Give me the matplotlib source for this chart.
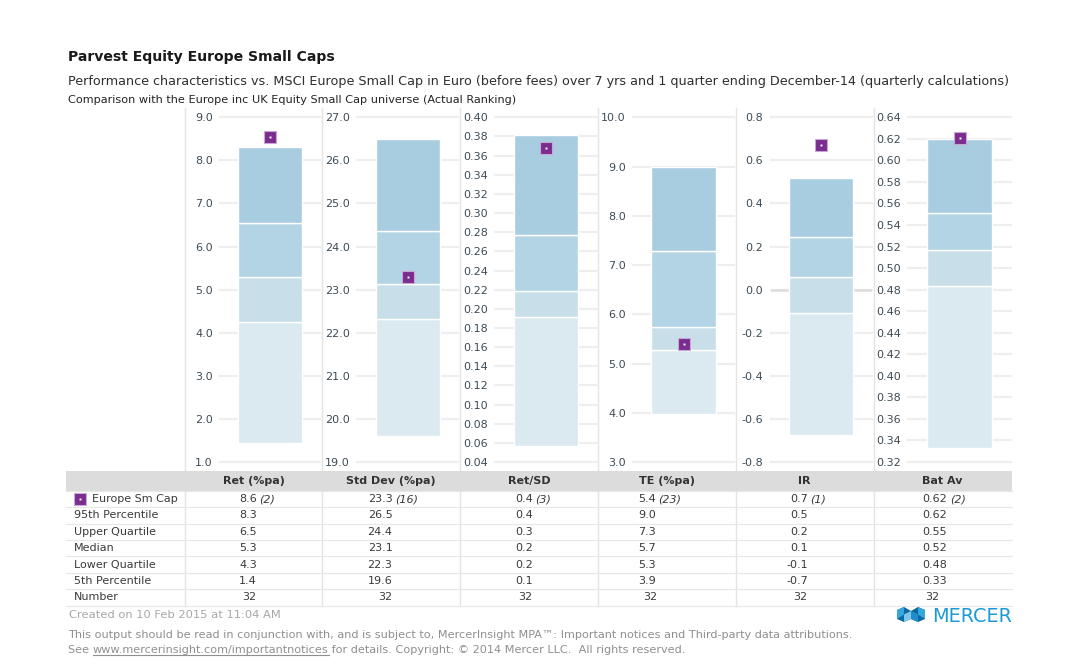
import matplotlib
matplotlib.use("Agg")
import matplotlib.pyplot as plt
from matplotlib.patches import Rectangle, Polygon
from matplotlib.lines import Line2D
import numpy as np

plt.rcParams['font.family'] = ['DejaVu Sans']
plt.rcParams['axes.unicode_minus'] = False

W, H = 1084, 664

# ---------------- data ----------------
metrics = ["Ret (%pa)", "Std Dev (%pa)", "Ret/SD", "TE (%pa)", "IR", "Bat Av"]
p95 = [8.30, 26.49, 0.3815, 8.99, 0.520, 0.620]
uq = [6.54, 24.35, 0.277, 7.29, 0.243, 0.551]
med = [5.30, 23.13, 0.219, 5.75, 0.061, 0.517]
lq = [4.26, 22.33, 0.191, 5.28, -0.109, 0.483]
p5 = [1.44, 19.61, 0.0566, 3.97, -0.675, 0.333]
fund = [8.55, 23.29, 0.368, 5.40, 0.670, 0.6205]

y_min = [1.0, 19.0, 0.04, 3.0, -0.8, 0.32]
y_max = [9.0, 27.0, 0.40, 10.0, 0.8, 0.64]
y_step = [1.0, 1.0, 0.02, 1.0, 0.2, 0.02]
tick_fmt = ["{:.1f}", "{:.1f}", "{:.2f}", "{:.1f}", "{:.1f}", "{:.2f}"]

fund_name = "Europe Sm Cap"
tbl_fund = ["8.6", "23.3", "0.4", "5.4", "0.7", "0.62"]
tbl_rank = ["(2)", "(16)", "(3)", "(23)", "(1)", "(2)"]
row_labels = ["95th Percentile", "Upper Quartile", "Median", "Lower Quartile",
              "5th Percentile", "Number"]
tbl_p95 = ["8.3", "26.5", "0.4", "9.0", "0.5", "0.62"]
tbl_uq = ["6.5", "24.4", "0.3", "7.3", "0.2", "0.55"]
tbl_med = ["5.3", "23.1", "0.2", "5.7", "0.1", "0.52"]
tbl_lq = ["4.3", "22.3", "0.2", "5.3", "-0.1", "0.48"]
tbl_p5 = ["1.4", "19.6", "0.1", "3.9", "-0.7", "0.33"]
tbl_num = ["32", "32", "32", "32", "32", "32"]

# ---------------- style ----------------
seg_colors = ["#dbe9f1", "#c8dfea", "#b3d4e4", "#a8cce0"]
grid_c = "#eeeeee"
sep_c = "#e4e4e4"
tick_c = "#3d4b55"
txt_c = "#3a3a3a"
purple = "#7b2c8f"

seps = [185, 322, 460, 598, 735.5, 873.5, 1012]
y_top, y_bot = 117.3, 462.0

fig = plt.figure(figsize=(W / 100, H / 100), dpi=100)
fig.patch.set_facecolor("white")
renderer = fig.canvas.get_renderer()


def fx(x):
    return x / W


def fy(y):
    return 1 - y / H


def ftext(x, y, s, **kw):
    return fig.text(fx(x), fy(y), s, **kw)


def fit(x, y, s, width, **kw):
    t = ftext(x, y, s, **kw)
    w = t.get_window_extent(renderer).width
    t.set_fontsize(t.get_fontsize() * width / w)
    return t


def fline(xs, ys, **kw):
    fig.add_artist(Line2D([fx(v) for v in xs], [fy(v) for v in ys],
                          transform=fig.transFigure, **kw))


def fmt_tick(f, t):
    if abs(t) < 1e-9:
        t = 0.0
    return f.format(t)


# ---------------- titles ----------------
fit(68, 60.5, "Parvest Equity Europe Small Caps", 268, fontsize=10,
    fontweight="bold", color="#1a1a1a", va="baseline")
fit(68, 85, "Performance characteristics vs. MSCI Europe Small Cap in Euro (before fees) "
    "over 7 yrs and 1 quarter ending December-14 (quarterly calculations)", 942,
    fontsize=9, color="#2e2e2e", va="baseline")
fit(68, 103.3, "Comparison with the Europe inc UK Equity Small Cap universe (Actual Ranking)",
    449, fontsize=7, color="#222222", va="baseline")

# ---------------- separators ----------------
for s in seps[:-1]:
    fline([s, s], [108, 606], color=sep_c, lw=1, zorder=0)

# ---------------- panels ----------------
for i in range(6):
    l = seps[i] + 35
    r = seps[i + 1] - 1.5
    ax = fig.add_axes([fx(l), fy(y_bot), (r - l) / W, (y_bot - y_top) / H])
    ax.patch.set_visible(False)
    ticks = np.round(np.arange(y_min[i], y_max[i] + y_step[i] / 2, y_step[i]), 4)
    ax.set_xlim(0, 1)
    ax.set_ylim(y_min[i], y_max[i])
    ax.set_yticks(ticks)
    ax.set_yticklabels([fmt_tick(tick_fmt[i], t) for t in ticks])
    ax.set_xticks([])
    for sp in ax.spines.values():
        sp.set_visible(False)
    ax.tick_params(axis="y", length=0, pad=5.2, labelsize=8, labelcolor=tick_c)
    for t in ticks:
        ax.axhline(t, color=grid_c, lw=1.6, zorder=0, clip_on=False)
    if y_min[i] < 0 < y_max[i]:
        ax.axhline(0, color="#dddddd", lw=1.8, zorder=0.5)
    bounds = [p5[i], lq[i], med[i], uq[i], p95[i]]
    for j in range(4):
        ax.bar(0.5, bounds[j + 1] - bounds[j], bottom=bounds[j], width=0.635,
               color=seg_colors[j], edgecolor="white", linewidth=1.0, zorder=2)
    ax.plot([0.5], [fund[i]], marker="s", ms=8, mfc=purple, mec="#c9a7d4",
            mew=0.8, ls="none", zorder=4, clip_on=False)
    ax.plot([0.5], [fund[i]], marker="s", ms=1.4, mfc="white", mec="none",
            ls="none", zorder=5, clip_on=False)

# ---------------- table ----------------
col_c = [(seps[k] + seps[k + 1]) / 2 for k in range(6)]
fig.add_artist(Rectangle((fx(66), fy(490.7)), (1012 - 66) / W, (490.7 - 471) / H,
                         transform=fig.transFigure, facecolor="#dcdcdc",
                         edgecolor="none", zorder=0.2))
for k, m in enumerate(metrics):
    ftext(col_c[k], 481, m, fontsize=8, fontweight="bold", color="#333333",
          ha="center", va="center")

row_h = 16.4
row0 = 499.0
for r_i in range(8):
    yy = 490.7 + row_h * r_i
    fline([66, 1012], [yy, yy], color="#e8e8e8", lw=0.9, zorder=0.3)

val_right = [257, 392.5, 532.7, 656, 808, 947.3]
num_right = [256, 392, 532.5, 657, 807, 939.5]

# fund row
fig.add_artist(Line2D([fx(80)], [fy(row0)], marker="s", ms=8, mfc=purple,
                      mec="#c9a7d4", mew=0.8, transform=fig.transFigure))
fig.add_artist(Line2D([fx(80)], [fy(row0)], marker="s", ms=1.4, mfc="white",
                      mec="none", transform=fig.transFigure))
ftext(91.7, row0, fund_name, fontsize=8, color=txt_c, va="center")
for k in range(6):
    ftext(val_right[k], row0, tbl_fund[k], fontsize=8, color=txt_c,
          ha="right", va="center")
    ftext(val_right[k] + 2.5, row0, tbl_rank[k], fontsize=8, color=txt_c,
          style="italic", ha="left", va="center")

rows = [tbl_p95, tbl_uq, tbl_med, tbl_lq, tbl_p5, tbl_num]
for r_i, (lab, vals) in enumerate(zip(row_labels, rows)):
    yy = row0 + row_h * (r_i + 1)
    ftext(74, yy, lab, fontsize=8, color=txt_c, va="center")
    xr = num_right if lab == "Number" else val_right
    for k in range(6):
        ftext(xr[k], yy, vals[k], fontsize=8, color=txt_c, ha="right", va="center")

# ---------------- footer ----------------
fit(69.3, 618, "Created on 10 Feb 2015 at 11:04 AM", 211, fontsize=8,
    color="#a8a8a8", va="baseline")
t1 = fit(68, 638.3, "This output should be read in conjunction with, and is subject to, "
         "MercerInsight MPA\u2122: Important notices and Third-party data attributions.",
         790, fontsize=8, color="#8f8f8f", va="baseline")
fs = t1.get_fontsize()
ta = ftext(68, 653.3, "See ", fontsize=fs, color="#8f8f8f", va="baseline")
bb = ta.get_window_extent(renderer)
x_url = bb.x1
tu = fig.text(x_url / W, fy(653.3), "www.mercerinsight.com/importantnotices",
              fontsize=fs, color="#8f8f8f", va="baseline")
bu = tu.get_window_extent(renderer)
fline([bu.x0, bu.x1], [655.3, 655.3], color="#8f8f8f", lw=0.8)
fig.text(bu.x1 / W, fy(653.3), " for details. Copyright: \u00a9 2014 Mercer LLC.  "
         "All rights reserved.", fontsize=fs, color="#8f8f8f", va="baseline")

# ---------------- logo ----------------
icon = [
    ([(897, 610), (904, 607), (911, 611), (911, 619), (904, 622), (897, 619)], "#0b6aa2"),
    ([(911, 611), (918, 607), (925, 610), (925, 619), (918, 622), (911, 619)], "#0b6aa2"),
    ([(897, 610), (904, 607), (904, 614.5), (897, 619)], "#36a7dc"),
    ([(925, 610), (918, 607), (918, 614.5), (925, 619)], "#36a7dc"),
    ([(904, 614.5), (911, 611), (911, 619), (904, 622)], "#7fc6e8"),
    ([(918, 614.5), (911, 611), (911, 619), (918, 622)], "#1f8fcc"),
]
for pts, c in icon:
    fig.add_artist(Polygon([(fx(a), fy(b)) for a, b in pts], closed=True,
                           transform=fig.transFigure, facecolor=c, edgecolor="none"))
fit(931.7, 621.7, "MERCER", 80, fontsize=14, color="#1b9ad6", va="baseline")

fig.savefig("out.png", dpi=100, facecolor="white")
